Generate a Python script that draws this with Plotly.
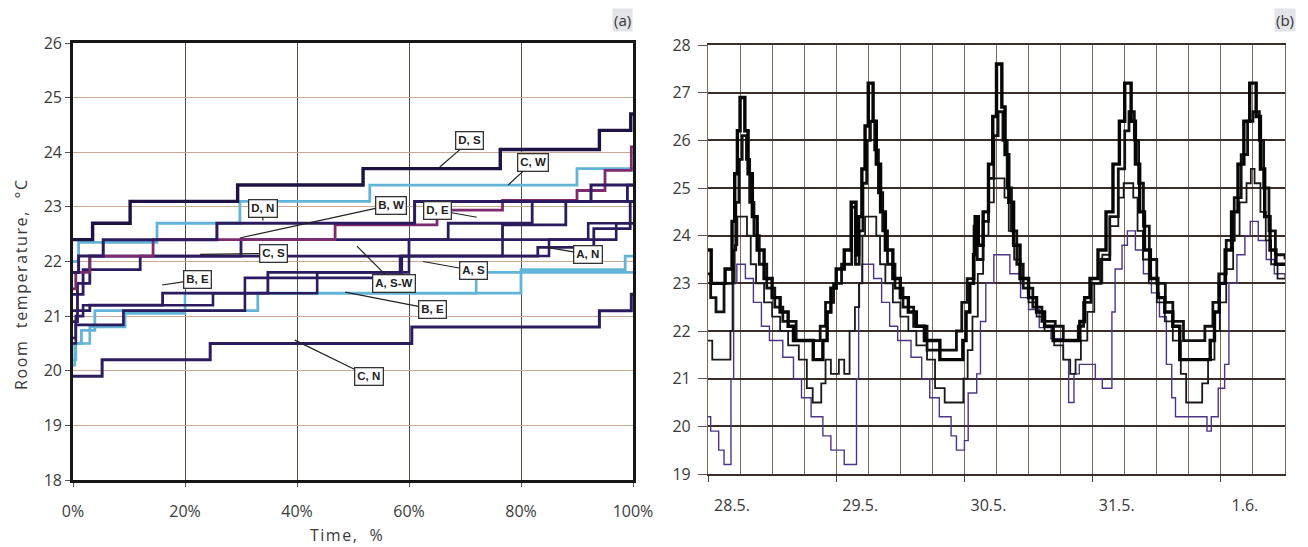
import plotly.graph_objects as go

# ---------------- Panel (a): cumulative room temperature (Time %, degC) ----------------
ds_x = [0, 3.5, 10.2, 29.4, 51.8, 76.3, 94.0, 99.6, 100]
ds_y = [22.4, 22.7, 23.1, 23.4, 23.7, 24.05, 24.4, 24.7, 24.7]
cw_x = [0, 1.0, 15.0, 29.8, 53.0, 90.0, 100]
cw_y = [22.0, 22.35, 22.7, 23.1, 23.4, 23.7, 23.7]
bw_x = [0, 0.5, 3.0, 14.3, 46.8, 65.0, 76.7, 90.0, 95.0, 99.7, 100]
bw_y = [21.5, 21.8, 22.1, 22.4, 22.67, 22.94, 23.12, 23.3, 23.67, 24.1, 24.1]
dn_x = [0, 1.0, 5.4, 25.7, 61.0, 92.5, 100]
dn_y = [21.8, 22.1, 22.4, 22.7, 23.1, 23.4, 23.4]
de_x = [0, 0.8, 3.0, 30.0, 67.0, 82.0, 99.0, 100]
de_y = [21.1, 21.6, 22.1, 22.4, 22.7, 23.1, 23.4, 23.4]
cs_x = [0, 1.8, 12.0, 60.0, 76.7, 88.0, 100]
cs_y = [21.4, 21.85, 22.1, 22.4, 22.67, 23.1, 23.1]
an_x = [0, 0.8, 3.0, 16.0, 34.8, 58.7, 83.0, 93.0, 99.5, 100]
an_y = [20.9, 21.1, 21.2, 21.42, 21.8, 22.1, 22.26, 22.6, 23.1, 23.1]
asw_x = [0, 0.5, 1.8, 25.0, 43.6, 60.0, 85.0, 97.0, 100]
asw_y = [20.6, 21.0, 21.2, 21.42, 21.8, 22.1, 22.4, 22.7, 22.7]
as_x = [0, 0.5, 1.5, 3.9, 33.0, 80.0, 98.6, 100]
as_y = [20.2, 20.5, 20.74, 21.1, 21.42, 21.85, 22.1, 22.1]
be1_x = [0, 0.3, 3.0, 9.3, 20.0, 72.0, 100]
be1_y = [20.1, 20.5, 20.8, 21.05, 21.42, 21.8, 21.8]
be2_x = [0, 0.5, 9.0, 30.7, 58.4, 76.7, 92.0, 100]
be2_y = [20.5, 20.84, 21.1, 21.7, 22.1, 22.4, 22.7, 22.7]
cn_x = [0, 5.2, 24.5, 60.5, 94.0, 99.7, 100]
cn_y = [19.9, 20.2, 20.5, 20.8, 21.1, 21.4, 21.4]

a_yticks = [18, 19, 20, 21, 22, 23, 24, 25, 26]
a_xticks = [0, 20, 40, 60, 80, 100]
a_xlabels = ["0%", "20%", "40%", "60%", "80%", "100%"]

# label text, arrow tip (x %, y degC)
a_labels = ["D, S", "C, W", "D, N", "B, W", "D, E", "C, S", "A, N", "A, S", "A, S-W", "B, E", "B, E", "C, N"]
a_tip_x = [65.5, 77.7, 33.9, 29.8, 72.1, 22.7, 84.6, 62.5, 50.7, 15.9, 48.6, 39.6]
a_tip_y = [23.73, 23.4, 22.75, 22.43, 22.81, 22.13, 22.26, 22.0, 22.28, 21.57, 21.44, 20.56]

# ---------------- Panel (b): time series, hours from 28.5. ----------------
t1_pts = [(0, 23.7), (0.6, 23.0), (3.2, 23.3), (4.5, 24.3), (5.0, 25.3), (5.5, 26.2), (6.0, 26.9), (6.9, 26.2),
          (7.5, 25.3), (8.3, 24.4), (9.2, 23.7), (10.5, 23.1), (12.0, 22.7), (13.5, 22.4), (15.0, 22.1), (16.0, 21.8),
          (19.7, 21.4), (21.5, 21.8), (22.3, 22.4), (23.0, 22.9), (24.0, 23.3), (25.5, 23.7), (26.8, 24.7), (27.7, 23.6),
          (28.2, 24.4), (28.8, 25.4), (29.4, 26.3), (30.0, 27.2), (30.9, 26.4), (31.5, 25.5), (32.3, 24.5), (33.2, 23.7),
          (34.6, 23.1), (36.0, 22.7), (37.5, 22.4), (39.0, 22.1), (40.5, 21.8), (43.4, 21.4), (47.7, 21.8), (48.3, 22.4),
          (49.0, 23.0), (49.7, 23.6), (50.0, 24.4), (50.6, 23.8), (51.5, 24.5), (52.5, 25.5), (53.3, 26.5), (54.0, 27.6),
          (55.0, 26.7), (55.6, 25.7), (56.3, 24.7), (57.2, 23.8), (58.4, 23.1), (60.0, 22.7), (61.5, 22.4), (63.0, 22.1),
          (64.6, 21.8), (69.6, 22.2), (70.5, 22.7), (71.5, 23.1), (73.0, 23.7), (74.5, 24.5), (75.8, 25.5), (77.0, 26.4),
          (78.0, 27.2), (79.2, 26.4), (80.0, 25.5), (80.8, 24.5), (81.7, 23.7), (82.8, 23.1), (84.2, 22.7), (85.5, 22.4),
          (87.0, 22.1), (88.3, 21.4), (94.0, 21.8), (94.8, 22.4), (95.7, 23.0), (96.8, 23.7), (98.0, 24.5), (99.2, 25.5),
          (100.3, 26.4), (101.4, 27.2), (102.6, 26.5), (103.4, 25.4), (104.2, 24.4), (105.2, 23.7), (106.3, 23.4), (108, 23.4)]
t2_pts = [(0, 23.2), (0.5, 22.7), (1.5, 22.4), (3.0, 23.0), (4.6, 23.7), (5.2, 24.7), (5.8, 25.6), (6.4, 26.1),
          (7.2, 25.6), (7.8, 24.7), (8.6, 24.0), (9.6, 23.4), (11.0, 22.9), (12.5, 22.5), (14.0, 22.2), (16.5, 21.8),
          (21.0, 22.1), (22.0, 22.6), (23.5, 23.0), (25.0, 23.4), (26.9, 24.6), (27.6, 23.4), (28.3, 24.1), (29.0, 25.1),
          (29.7, 26.0), (30.4, 26.4), (31.2, 25.8), (31.9, 24.9), (32.7, 24.1), (33.6, 23.4), (35.0, 22.9), (36.5, 22.5),
          (38.5, 22.1), (41.0, 21.6), (46.5, 22.0), (47.5, 22.6), (48.5, 23.1), (49.8, 24.2), (50.4, 23.5), (51.5, 24.3),
          (52.5, 25.2), (53.5, 26.1), (54.3, 26.6), (55.2, 26.0), (56.0, 25.0), (56.8, 24.1), (57.8, 23.4), (59.0, 22.9),
          (60.8, 22.5), (62.5, 22.2), (65.0, 22.1), (66.5, 21.8), (69.3, 22.1), (70.3, 22.6), (71.7, 23.0), (73.5, 23.5),
          (75.2, 24.4), (76.8, 25.4), (78.0, 26.2), (78.8, 26.6), (79.8, 26.0), (80.6, 25.1), (81.5, 24.2), (82.6, 23.5),
          (84.0, 23.0), (85.6, 22.6), (87.0, 22.2), (89.0, 21.8), (93.0, 22.1), (94.5, 22.6), (95.6, 23.2), (97.0, 23.9),
          (98.5, 24.8), (99.8, 25.7), (101.0, 26.4), (102.0, 26.6), (103.2, 26.0), (104.0, 25.0), (105.0, 24.1),
          (106.2, 23.6), (108, 23.5)]
m_pts = [(0, 21.8), (0.8, 21.4), (4.2, 22.0), (4.6, 23.0), (5.0, 23.8), (5.5, 24.4), (7.3, 24.0), (8.0, 23.4),
         (9.0, 23.0), (10.5, 22.6), (12.0, 22.3), (13.5, 22.0), (15.0, 21.7), (17.0, 21.4), (18.5, 20.8), (19.6, 20.5),
         (21.2, 20.9), (22.0, 21.4), (23.0, 21.1), (24.5, 21.4), (25.5, 21.1), (26.5, 22.0), (27.5, 22.5), (28.3, 23.0),
         (28.9, 24.0), (29.4, 24.4), (31.5, 24.0), (32.2, 23.4), (33.2, 23.0), (34.6, 22.6), (36.0, 22.3), (37.5, 22.0),
         (39.0, 21.7), (41.0, 21.4), (42.5, 20.8), (44.3, 20.5), (47.8, 21.0), (48.6, 21.6), (49.5, 22.3), (50.5, 23.2),
         (51.5, 24.0), (52.5, 24.7), (53.5, 25.2), (55.5, 24.8), (56.3, 24.1), (57.3, 23.5), (58.5, 23.0), (60.0, 22.6),
         (61.5, 22.3), (63.0, 22.0), (64.8, 21.7), (66.5, 21.4), (67.8, 21.1), (68.8, 21.4), (69.8, 21.8), (71.0, 22.4),
         (72.3, 23.0), (73.8, 23.6), (75.3, 24.2), (76.8, 24.8), (77.8, 25.1), (79.6, 24.8), (80.4, 24.1), (81.4, 23.5),
         (82.5, 23.0), (84.0, 22.6), (85.5, 22.2), (87.0, 21.8), (88.5, 21.1), (89.5, 20.5), (92.5, 20.9), (93.6, 21.4),
         (94.8, 22.0), (95.8, 22.6), (97.0, 23.3), (98.3, 24.0), (99.5, 24.7), (100.8, 25.1), (101.6, 25.4), (102.3, 25.1),
         (103.4, 24.5), (104.4, 23.9), (105.4, 23.4), (106.6, 23.1), (108, 23.1)]
p_pts = [(0, 20.2), (0.5, 19.9), (2.0, 19.5), (3.0, 19.2), (4.3, 21.0), (4.8, 23.0), (5.4, 23.4), (7.0, 23.1),
         (8.5, 22.6), (10.0, 22.1), (11.5, 21.8), (14.0, 21.45), (16.0, 21.0), (17.5, 20.6), (19.3, 20.2), (21.5, 19.8),
         (23.0, 19.5), (25.5, 19.2), (27.8, 21.0), (28.2, 23.0), (28.8, 23.4), (31.0, 23.1), (32.5, 22.6), (34.0, 22.1),
         (35.5, 21.8), (38.0, 21.45), (40.0, 21.0), (41.5, 20.6), (43.3, 20.2), (45.5, 19.8), (46.5, 19.5), (48.0, 19.7),
         (48.7, 20.7), (50.3, 21.1), (51.0, 22.2), (52.0, 23.0), (53.5, 23.6), (56.5, 23.2), (58.5, 22.7), (60.0, 22.45),
         (62.0, 22.07), (64.2, 21.84), (66.5, 21.4), (67.5, 20.5), (68.5, 21.1), (69.5, 21.3), (72.5, 21.0), (73.8, 20.8),
         (75.6, 22.4), (76.2, 23.3), (77.5, 23.8), (78.5, 24.1), (80.0, 23.7), (81.5, 23.2), (83.0, 22.8), (84.5, 22.3),
         (85.8, 21.3), (86.8, 20.6), (87.5, 20.2), (93.4, 19.9), (94.2, 20.2), (95.5, 20.8), (96.7, 21.3), (97.5, 23.0),
         (99.0, 23.6), (100.5, 24.0), (101.5, 24.3), (103.0, 23.9), (104.5, 23.5), (106.0, 23.2), (108, 23.1)]

b_day_ticks = [0, 24, 48, 72, 96]
b_day_labels = ["28.5.", "29.5.", "30.5.", "31.5.", "1.6."]
b_yticks = [19, 20, 21, 22, 23, 24, 25, 26, 27, 28]

# ---------------- styles ----------------
NAVY = "#2c1b5e"
DARKNAVY = "#1e1245"
PURPLE = "#7c2b6e"
LBLUE = "#62b4d8"
FONT = "Open Sans"
TXT = "#3a3a3a"

fig = go.Figure()

a_series = [
    ("A, S", as_x, as_y, LBLUE, 2.8),
    ("B, E", be1_x, be1_y, LBLUE, 2.6),
    ("C, N", cn_x, cn_y, NAVY, 3.0),
    ("B, E ", be2_x, be2_y, NAVY, 2.6),
    ("A, S-W", asw_x, asw_y, NAVY, 2.6),
    ("A, N", an_x, an_y, NAVY, 2.8),
    ("C, S", cs_x, cs_y, NAVY, 2.8),
    ("D, E", de_x, de_y, NAVY, 2.8),
    ("C, W", cw_x, cw_y, LBLUE, 2.8),
    ("B, W", bw_x, bw_y, PURPLE, 2.8),
    ("D, N", dn_x, dn_y, NAVY, 3.0),
    ("D, S", ds_x, ds_y, DARKNAVY, 3.4),
]
for name, xs, ys, col, w in a_series:
    fig.add_trace(go.Scatter(x=xs, y=ys, mode="lines", line=dict(color=col, width=w, shape="hv"),
                             name=name, xaxis="x", yaxis="y", showlegend=False))

b_series = [
    (p_pts, "#4e3487", 1.4),
    (m_pts, "#1a1a1a", 1.8),
    (t2_pts, "#111111", 2.8),
    (t1_pts, "#050505", 3.4),
]
for pts, col, w in b_series:
    hx = [p[0] for p in pts]
    hy = [p[1] for p in pts]
    fig.add_trace(go.Scatter(x=hx, y=hy, mode="lines", line=dict(color=col, width=w, shape="hv"),
                             xaxis="x2", yaxis="y2", showlegend=False))

# callout boxes in panel (a): offsets of the box from the arrow tip, px
box_dx = [30, 25, 0, 151, -39, 73, 41, 50, 37, 35, 87, 74]
box_dy = [-26, -23, -12, -33, -7, -1, 7, 9, 37, -5, 17, 36]
annotations = []
for lab, tx, ty, dx, dy in zip(a_labels, a_tip_x, a_tip_y, box_dx, box_dy):
    annotations.append(dict(x=tx, y=ty, xref="x", yref="y", text="<b>" + lab + "</b>",
                            showarrow=True, ax=dx, ay=dy, arrowhead=0, arrowwidth=1.2, arrowcolor="#222",
                            font=dict(family="Liberation Sans", size=11.5, color="#222"),
                            bgcolor="white", bordercolor="#333", borderwidth=1.3, borderpad=2))

annotations += [
    dict(text="(a)", x=622 / 1308, y=1 - 20 / 547, xref="paper", yref="paper", xanchor="center", yanchor="middle",
         showarrow=False, font=dict(family=FONT, size=15, color="#333"), bgcolor="#e3e3ea", borderpad=1),
    dict(text="(b)", x=1285 / 1308, y=1 - 20 / 547, xref="paper", yref="paper", xanchor="center", yanchor="middle",
         showarrow=False, font=dict(family=FONT, size=15, color="#333"), bgcolor="#e3e3ea", borderpad=1),
    dict(text="<span style='letter-spacing:1.5px'>Time,  %</span>", x=347 / 1308, y=1 - 535 / 547,
         xref="paper", yref="paper", xanchor="center", yanchor="middle", showarrow=False,
         font=dict(family=FONT, size=16, color=TXT)),
    dict(text="<span style='letter-spacing:1.6px'>Room  temperature,  °C</span>", x=21 / 1308, y=1 - 284 / 547,
         xref="paper", yref="paper", xanchor="center", yanchor="middle",
         showarrow=False, textangle=-90, font=dict(family=FONT, size=16, color=TXT)),
]

fig.update_layout(
    width=1308, height=547, margin=dict(l=0, r=0, t=0, b=0, autoexpand=False),
    paper_bgcolor="white", plot_bgcolor="white",
    font=dict(family=FONT, size=16, color=TXT),
    annotations=annotations,
    xaxis=dict(domain=[73 / 1308, 633 / 1308], range=[0, 100], tickvals=a_xticks, ticktext=a_xlabels,
               showgrid=True, gridcolor="#5d4c42", gridwidth=1.3, zeroline=False, automargin=False,
               showline=True, linecolor="#161616", linewidth=2.6, mirror=True,
               ticks="outside", ticklen=4, tickcolor="#555", ticklabelstandoff=11, anchor="y"),
    yaxis=dict(domain=[1 - 480 / 547, 1 - 43 / 547], range=[18, 26], tickvals=a_yticks,
               showgrid=True, gridcolor="#c9a994", gridwidth=1.3, zeroline=False, automargin=False,
               showline=True, linecolor="#161616", linewidth=2.6, mirror=True,
               ticks="outside", ticklen=5, tickcolor="#555", anchor="x"),
    xaxis2=dict(domain=[708 / 1308, 1285 / 1308], range=[0, 108], tickvals=b_day_ticks, ticktext=b_day_labels,
                ticklabelshift=24, ticklabelstandoff=10, automargin=False,
                showgrid=True, gridcolor="#7d665a", gridwidth=1.2, zeroline=False,
                minor=dict(dtick=6, tick0=0, showgrid=True, gridcolor="#7d665a", gridwidth=1.2),
                showline=True, linecolor="#3b2e28", linewidth=1.6, mirror=True,
                ticks="outside", ticklen=6, tickcolor="#444", anchor="y2"),
    yaxis2=dict(domain=[1 - 474 / 547, 1 - 45 / 547], range=[19, 28], tickvals=b_yticks,
                showgrid=True, gridcolor="#3b2e28", gridwidth=1.8, zeroline=False, automargin=False,
                showline=True, linecolor="#7d665a", linewidth=1.2, mirror=True,
                ticks="outside", ticklen=9, tickcolor="#555", ticklabelstandoff=4, anchor="x2"),
)

fig.write_html("out.html")
